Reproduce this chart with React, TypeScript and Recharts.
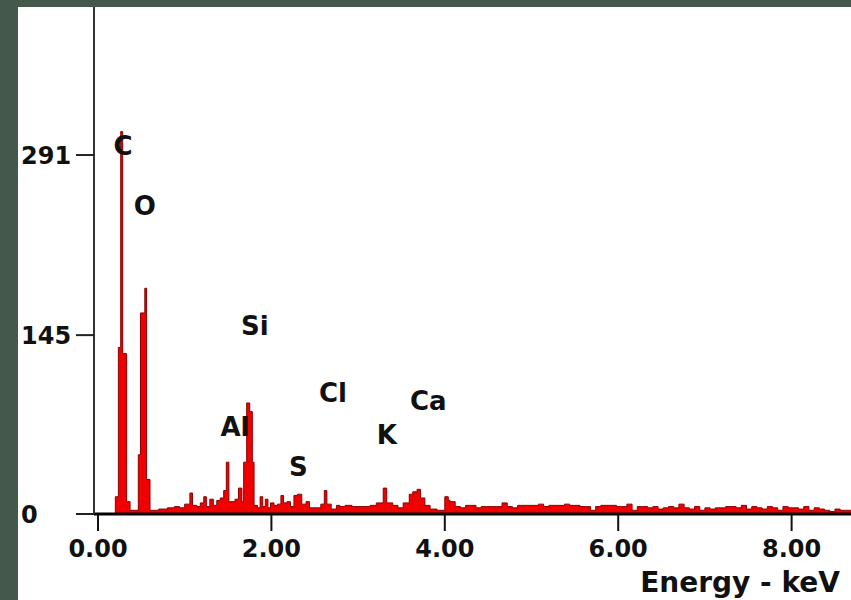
import { ComposedChart, Area, Scatter, XAxis, YAxis } from 'recharts';

// [keV, counts] — step histogram, each entry starts a bin
const lowRegion: [number, number][] = [
  [0.0, 0], [0.2, 14], [0.235, 135], [0.262, 310], [0.285, 130], [0.33, 10], [0.37, 3],
  [0.465, 48], [0.49, 163], [0.54, 183], [0.56, 28], [0.6, 3], [0.7, 4], [0.8, 5],
  [0.88, 6], [0.94, 5], [1.0, 8], [1.06, 17], [1.09, 7], [1.14, 6], [1.18, 9],
  [1.22, 14], [1.25, 6], [1.29, 12], [1.33, 7], [1.37, 11], [1.41, 13], [1.45, 19],
  [1.48, 42], [1.51, 10], [1.58, 12], [1.62, 21], [1.66, 10], [1.68, 42], [1.715, 90],
  [1.75, 83], [1.78, 42],
];

const midRegion: [number, number][] = [
  [1.8, 7], [1.84, 5], [1.87, 14], [1.9, 6], [1.93, 12], [1.96, 5], [1.99, 9],
  [2.03, 7], [2.07, 8], [2.11, 15], [2.14, 9], [2.18, 10], [2.22, 6], [2.26, 15],
  [2.3, 16], [2.35, 8], [2.4, 10], [2.44, 5], [2.57, 8], [2.61, 19], [2.64, 8],
  [2.69, 4], [2.75, 7], [2.79, 6], [2.85, 7], [2.93, 6], [3.14, 7], [3.21, 9],
  [3.29, 21], [3.33, 9], [3.4, 7], [3.46, 5], [3.52, 9], [3.59, 16], [3.63, 18],
  [3.68, 20], [3.72, 13], [3.77, 7], [3.83, 4], [3.91, 3], [4.0, 14], [4.04, 11],
];

const tailRegion: [number, number][] = [
  [4.06, 10], [4.12, 6], [4.18, 5], [4.24, 7], [4.3, 7], [4.36, 5], [4.42, 6],
  [4.48, 6], [4.54, 6], [4.6, 6], [4.66, 9], [4.72, 6], [4.78, 5], [4.84, 7],
  [4.9, 7], [4.96, 7], [5.02, 7], [5.08, 8], [5.14, 6], [5.2, 7], [5.26, 7],
  [5.32, 7], [5.38, 8], [5.44, 7], [5.5, 7], [5.56, 6], [5.62, 6], [5.68, 3],
  [5.74, 6], [5.8, 7], [5.86, 7], [5.92, 7], [5.98, 6], [6.04, 6], [6.1, 8],
  [6.16, 3], [6.22, 6], [6.28, 6], [6.34, 5], [6.4, 6], [6.46, 4], [6.52, 5],
  [6.58, 6], [6.64, 5], [6.7, 8], [6.76, 5], [6.82, 4], [6.88, 6], [6.94, 3],
  [7.0, 5], [7.06, 4], [7.12, 5], [7.18, 5], [7.24, 6], [7.3, 6], [7.36, 5],
  [7.42, 7], [7.48, 4], [7.54, 6], [7.6, 5], [7.66, 4], [7.72, 6], [7.78, 5],
  [7.84, 3], [7.9, 6], [7.96, 5], [8.02, 5], [8.08, 4], [8.14, 6], [8.2, 3],
  [8.26, 5], [8.32, 4], [8.38, 3], [8.44, 2], [8.5, 4], [8.56, 3], [8.62, 3],
  [8.68, 3], [8.74, 3],
];

const elements = ['C', 'O', 'Si', 'Al', 'S', 'Cl', 'K', 'Ca'];
const elementEnergy = [0.29, 0.54, 1.81, 1.58, 2.31, 2.71, 3.33, 3.81];
const elementCounts = [291, 242, 145, 63, 31, 91, 57, 84];

const xTicks = [0, 2, 4, 6, 8];
const yTicks = [0, 145, 291];

const spectrum = [...lowRegion, ...midRegion, ...tailRegion].map(([energy, counts]) => ({ energy, counts }));
const labels = elements.map((name, i) => ({ name, energy: elementEnergy[i], counts: elementCounts[i] }));

const font = '"DejaVu Sans", Verdana, sans-serif';

const ElementLabel = (props: any) => (
  <text x={props.cx} y={props.cy} textAnchor="middle" fontFamily={font} fontWeight="bold" fontSize={26} fill="#111">
    {props.payload.name}
  </text>
);

const YTick = (props: any) => (
  <text x={21} y={props.y} dy={9} textAnchor="start" fontFamily={font} fontWeight="bold" fontSize={24} fill="#111">
    {props.payload.value}
  </text>
);

export default function App() {
  return (
    <div style={{ position: 'fixed', left: 0, top: 0, width: 851, height: 600, background: '#44594c' }}>
      <div style={{ position: 'absolute', left: 18, top: 7, width: 833, height: 593, background: '#fff' }} />
      <div style={{ position: 'absolute', left: 0, top: 0 }}>
        <ComposedChart width={851} height={600} data={spectrum} margin={{ top: 7, right: 0, left: 0, bottom: 0 }}>
          <XAxis
            dataKey="energy"
            type="number"
            domain={[-0.046, 8.685]}
            allowDataOverflow
            ticks={xTicks}
            tickFormatter={(v: number) => v.toFixed(2)}
            height={86}
            tickSize={17}
            tickMargin={9}
            axisLine={{ stroke: '#000', strokeWidth: 3 }}
            tickLine={{ stroke: '#111', strokeWidth: 2 }}
            tick={{ fontFamily: font, fontWeight: 'bold', fontSize: 24, fill: '#111' }}
          />
          <YAxis
            type="number"
            domain={[0, 411]}
            allowDataOverflow
            ticks={yTicks}
            width={94}
            tickSize={18}
            axisLine={{ stroke: '#333', strokeWidth: 2 }}
            tickLine={{ stroke: '#222', strokeWidth: 2 }}
            tick={<YTick />}
          />
          <Area
            type="stepAfter"
            dataKey="counts"
            stroke="#8c0000"
            strokeWidth={1}
            fill="#f00000"
            fillOpacity={1}
            dot={false}
            activeDot={false}
            isAnimationActive={false}
          />
          <Scatter data={labels} dataKey="counts" shape={<ElementLabel />} isAnimationActive={false} />
        </ComposedChart>
      </div>
      <svg width={851} height={600} style={{ position: 'absolute', left: 0, top: 0, pointerEvents: 'none' }}>
        <text x={840} y={592} textAnchor="end" fontFamily={font} fontWeight="bold" fontSize={28} fill="#111">
          Energy - keV
        </text>
      </svg>
    </div>
  );
}
